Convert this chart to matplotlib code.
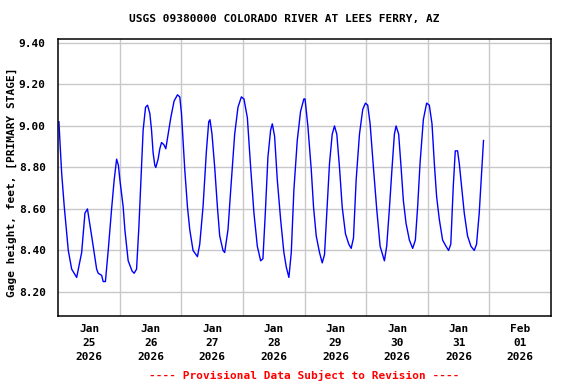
"""USGS 09380000 Colorado River at Lees Ferry — gage height hydrograph."""
import matplotlib
matplotlib.use("Agg")
import matplotlib.pyplot as plt
import pandas as pd

matplotlib.rc("font", family=["DejaVu Sans Mono"], weight="bold", size=8)

START = pd.Timestamp("2026-01-25 00:00")
N_DAYS = 8

hours = [
    0.25, 0.66, 1.32, 2.33, 3.89, 5.21, 7.16, 9.10, 10.39, 11.36,
    12.99, 14.94, 15.56, 16.88, 17.50, 18.36, 19.45, 20.77, 21.78, 22.72,
    23.42, 24.00, 25.28, 25.94, 27.23, 28.78, 29.56, 30.50, 31.39, 32.44,
    33.06, 34.00, 34.78, 35.67, 36.33, 36.95, 37.61, 38.00, 38.90, 39.56,
    40.22, 41.12, 41.89, 42.79, 43.84, 45.12, 46.44, 47.34, 48.00, 48.62,
    49.28, 50.33, 51.23, 52.51, 54.22, 55.12, 56.40, 57.72, 58.62, 59.12,
    59.90, 60.95, 62.00, 62.90, 64.18, 64.84, 66.13, 67.18, 68.73, 70.02,
    71.34, 72.35, 73.67, 74.96, 76.24, 77.56, 78.85, 79.74, 80.67, 81.69,
    82.74, 83.40, 84.29, 85.34, 86.63, 87.91, 88.84, 89.86, 90.79, 91.80,
    93.12, 94.41, 95.69, 96.15, 97.25, 98.57, 99.46, 100.51, 101.79, 102.85,
    103.74, 104.64, 105.69, 106.74, 107.63, 108.53, 109.58, 110.63, 111.91, 113.20,
    114.13, 115.03, 116.07, 117.36, 118.64, 119.69, 120.58, 121.51, 122.80, 124.08,
    125.41, 127.08, 127.97, 129.02, 130.07, 130.97, 131.63, 132.64, 133.58, 134.47,
    135.52, 136.81, 138.09, 139.14, 140.03, 140.97, 142.25, 143.53, 144.58, 145.63,
    146.53, 147.42, 148.47, 149.76, 151.08, 152.09, 152.95, 153.92, 154.70, 155.59,
    156.25, 157.30, 158.20, 159.48, 160.81, 162.09, 162.99, 164.03, 165.08, 165.70,
]
stage_ft = [
    9.02, 8.92, 8.77, 8.61, 8.40, 8.31, 8.27, 8.39, 8.58, 8.60,
    8.47, 8.31, 8.29, 8.28, 8.25, 8.25, 8.40, 8.60, 8.74, 8.84,
    8.81, 8.74, 8.61, 8.50, 8.35, 8.30, 8.29, 8.31, 8.51, 8.80,
    8.98, 9.09, 9.10, 9.06, 8.98, 8.87, 8.81, 8.80, 8.84, 8.89,
    8.92, 8.91, 8.89, 8.96, 9.04, 9.12, 9.15, 9.14, 9.06, 8.93,
    8.79, 8.61, 8.50, 8.40, 8.37, 8.43, 8.61, 8.88, 9.02, 9.03,
    8.96, 8.80, 8.61, 8.47, 8.40, 8.39, 8.50, 8.69, 8.96, 9.09,
    9.14, 9.13, 9.04, 8.80, 8.58, 8.42, 8.35, 8.36, 8.58, 8.85,
    8.98, 9.01, 8.95, 8.74, 8.55, 8.39, 8.32, 8.27, 8.39, 8.69,
    8.93, 9.07, 9.13, 9.13, 9.00, 8.79, 8.61, 8.47, 8.39, 8.34,
    8.38, 8.58, 8.82, 8.96, 9.00, 8.96, 8.80, 8.61, 8.48, 8.43,
    8.41, 8.46, 8.74, 8.96, 9.08, 9.11, 9.10, 9.01, 8.80, 8.60,
    8.42, 8.35, 8.42, 8.60, 8.80, 8.96, 9.00, 8.96, 8.80, 8.64,
    8.53, 8.45, 8.41, 8.45, 8.61, 8.82, 9.03, 9.11, 9.10, 9.01,
    8.82, 8.66, 8.55, 8.45, 8.42, 8.40, 8.43, 8.71, 8.88, 8.88,
    8.82, 8.69, 8.58, 8.47, 8.42, 8.40, 8.43, 8.58, 8.80, 8.93,
]

y_ticks = [8.20, 8.40, 8.60, 8.80, 9.00, 9.20, 9.40]
day_labels = [
    "Jan\n25\n2026", "Jan\n26\n2026", "Jan\n27\n2026", "Jan\n28\n2026",
    "Jan\n29\n2026", "Jan\n30\n2026", "Jan\n31\n2026", "Feb\n01\n2026",
]

TITLE = "USGS 09380000 COLORADO RIVER AT LEES FERRY, AZ"
YLABEL = "Gage height, feet, [PRIMARY STAGE]"
FOOTER = "---- Provisional Data Subject to Revision ----"


def main() -> None:
    times = START + pd.to_timedelta(hours, unit="h")

    fig = plt.figure(figsize=(5.76, 3.84), dpi=100)
    ax = fig.add_axes([58.3 / 576, 1 - 316 / 384, (551 - 58.3) / 576, (316 - 39) / 384])

    ax.plot(times, stage_ft, color="#0000ff", lw=1.0)

    ax.set_xlim(START, START + pd.Timedelta(days=N_DAYS))
    ax.set_ylim(8.084, 9.419)

    # labels sit at noon, grid at midnight
    noon = [START + pd.Timedelta(hours=12 + 24 * i) for i in range(N_DAYS)]
    midnight = [START + pd.Timedelta(days=i) for i in range(1, N_DAYS)]
    ax.set_xticks(noon)
    ax.set_xticklabels(day_labels, linespacing=1.45)
    ax.set_xticks(midnight, minor=True)
    ax.set_yticks(y_ticks)
    ax.set_yticklabels([f"{v:.2f}" for v in y_ticks])

    ax.grid(False)
    ax.grid(True, which="minor", axis="x", color="#c8c8c8", lw=1)
    ax.grid(True, which="major", axis="y", color="#c8c8c8", lw=1)
    ax.set_axisbelow(True)
    ax.tick_params(which="both", length=0)
    ax.tick_params(axis="y", pad=9)
    ax.tick_params(axis="x", pad=6)
    for sp in ax.spines.values():
        sp.set_linewidth(1.1)
        sp.set_color("black")

    fig.text(0.493, 1 - 19 / 384, TITLE, ha="center", va="center")
    fig.text(12 / 576, 1 - 182 / 384, YLABEL, ha="center", va="center", rotation=90)
    fig.text(304 / 576, 1 - 375 / 384, FOOTER, ha="center", va="center", color="#ff0000")

    fig.savefig("out.png", dpi=100)
    plt.close(fig)


if __name__ == "__main__":
    main()
